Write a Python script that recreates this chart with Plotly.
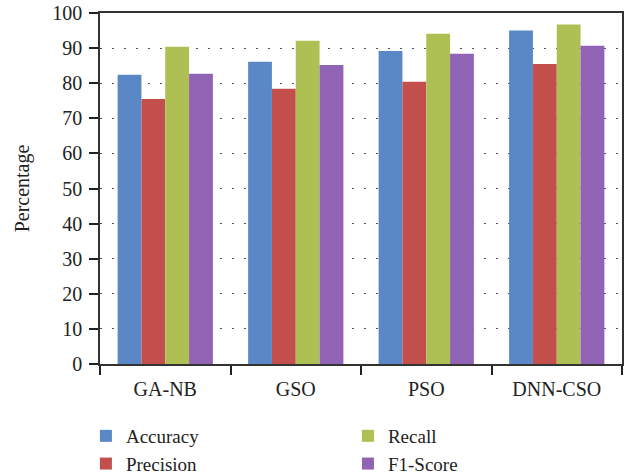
import plotly.graph_objects as go

categories = ["GA-NB", "GSO", "PSO", "DNN-CSO"]
accuracy = [82.4, 86.1, 89.2, 95.0]
precision = [75.5, 78.4, 80.4, 85.5]
recall = [90.4, 92.1, 94.1, 96.7]
f1_score = [82.7, 85.2, 88.4, 90.7]
series_names = ["Accuracy", "Precision", "Recall", "F1-Score"]
y_ticks = [0, 10, 20, 30, 40, 50, 60, 70, 80, 90, 100]

colors = ["#5A88C6", "#C24F4B", "#AEC053", "#9063B5"]
legends = ["legend", "legend", "legend2", "legend2"]
FONT = "Liberation Serif"

fig = go.Figure()
for name, vals, col, lg in zip(series_names, [accuracy, precision, recall, f1_score], colors, legends):
    fig.add_trace(go.Bar(name=name, x=categories, y=vals, marker_color=col,
                         marker_line_width=0, legend=lg))

leg_common = dict(orientation="v", bgcolor="rgba(0,0,0,0)", font=dict(family=FONT, size=19, color="#222"),
                  tracegroupgap=0, itemsizing="constant", yanchor="top", xanchor="left")
fig.update_layout(
    width=637, height=476,
    margin=dict(l=100, r=15, t=13, b=112, autoexpand=False),
    paper_bgcolor="white", plot_bgcolor="white",
    barmode="group", bargap=0.27, bargroupgap=0,
    font=dict(family=FONT, size=20, color="#222"),
    legend=dict(x=-0.027, y=-0.151, **leg_common),
    legend2=dict(x=0.475, y=-0.151, **leg_common),
    showlegend=True,
)
fig.update_xaxes(
    type="category", tickson="boundaries", ticks="outside", ticklen=9, tickwidth=1.5,
    tickcolor="#222", showline=True, linecolor="#333", linewidth=1.5, mirror=True,
    showgrid=False, automargin=False, ticklabelstandoff=6,
    tickfont=dict(family=FONT, size=20, color="#222"),
)
fig.update_yaxes(
    range=[0, 100], tickvals=y_ticks, ticks="outside", ticklen=9, tickwidth=1.5,
    tickcolor="#222", showline=True, linecolor="#333", linewidth=1.5, mirror=True,
    showgrid=True, gridcolor="#555", gridwidth=1.2, griddash="1.5px,10.5px",
    zeroline=False, automargin=False, ticklabelstandoff=3,
    tickfont=dict(family=FONT, size=20, color="#222"),
    title=dict(text="Percentage", font=dict(family=FONT, size=20, color="#222"), standoff=17),
)
fig.write_html("out.html", config={"displayModeBar": False},
               post_script="document.body.style.margin='0';document.body.style.overflow='hidden';")
